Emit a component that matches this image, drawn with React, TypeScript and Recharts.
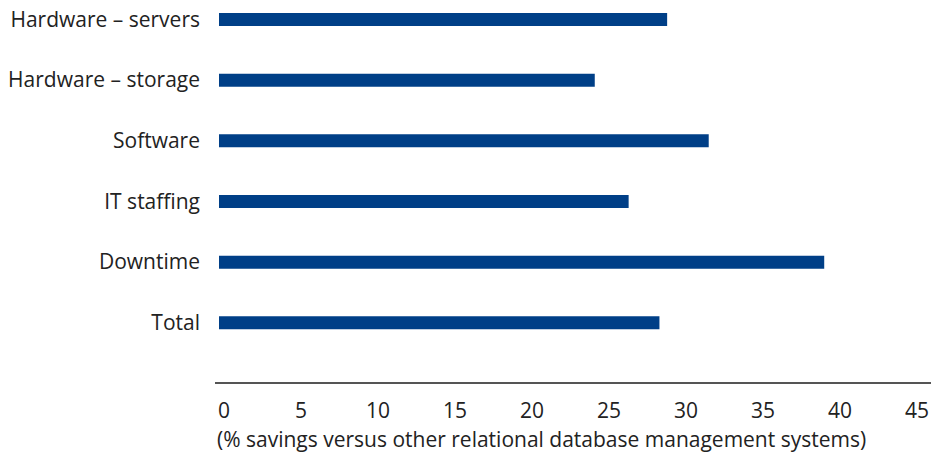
import React from 'react';
import { BarChart, Bar, XAxis, YAxis } from 'recharts';

const categories = ['Hardware – servers', 'Hardware – storage', 'Software', 'IT staffing', 'Downtime', 'Total'];
const savings = [29.1, 24.4, 31.8, 26.6, 39.3, 28.6];
const xTicks = [0, 5, 10, 15, 20, 25, 30, 35, 40, 45];
const axisTitle = '(% savings versus other relational database management systems)';

const data = categories.map((c, i) => ({ name: c, value: savings[i] }));

const FONT = '"Open Sans", Roboto, sans-serif';

export default function App() {
  return (
    <div style={{ position: 'absolute', left: 0, top: -11, width: 931, height: 463, fontFamily: FONT }}>
      <BarChart
        width={931}
        height={463}
        data={data}
        layout="vertical"
        margin={{ top: 0, right: 0, bottom: 0, left: 0 }}
      >
        <XAxis
          type="number"
          domain={[0, 45]}
          ticks={xTicks}
          interval={0}
          tickLine={false}
          tickSize={0}
          tickMargin={20}
          axisLine={{ stroke: '#555', strokeWidth: 2 }}
          padding={{ left: 4, right: 19 }}
          height={69}
          tick={{ fill: '#222', fontSize: 21, fontFamily: FONT, dx: 5 }}
        />
        <YAxis
          type="category"
          dataKey="name"
          width={215}
          axisLine={false}
          tickLine={false}
          tickSize={0}
          tickMargin={15}
          padding={{ top: 0, bottom: 30 }}
          interval={0}
          tick={{ fill: '#222', fontSize: 21, fontFamily: FONT }}
        />
        <Bar dataKey="value" fill="#003f87" barSize={13} isAnimationActive={false} />
      </BarChart>
      <div
        style={{
          position: 'absolute',
          left: 217,
          top: 440,
          fontSize: 21,
          lineHeight: '20px',
          color: '#222',
          whiteSpace: 'nowrap',
          fontFamily: FONT,
        }}
      >
        {axisTitle}
      </div>
    </div>
  );
}
